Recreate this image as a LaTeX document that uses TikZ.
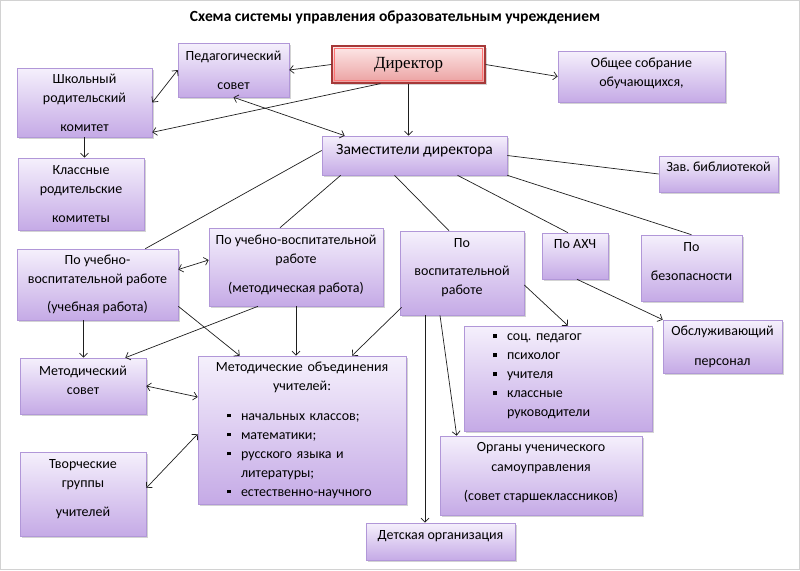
\documentclass[tikz,border=0pt]{standalone}
\usepackage{fontspec}
\setmainfont{Carlito}
\newfontfamily\dirfont{Liberation Serif}
\usetikzlibrary{arrows.meta,calc,shadows}

\definecolor{boxtop}{HTML}{F5F0FC}
\definecolor{boxbot}{HTML}{C5AAE6}
\definecolor{boxline}{HTML}{B197D8}
\definecolor{dirtop}{HTML}{FDE9E9}
\definecolor{dirbot}{HTML}{EBA0A0}
\definecolor{dirline}{HTML}{A63838}
\definecolor{linkcol}{HTML}{1E1E1E}

\newcommand\sqitem{\hspace*{15pt}\makebox[14pt][l]{\raisebox{2.7pt}{\rule{3.8pt}{3.8pt}}}}
\newcommand\dropline[1]{\rule[-#1]{0pt}{#1}}
\frenchspacing

\begin{document}
\begin{tikzpicture}[x=1pt, y=-1pt]
   \tikzstyle{box}=[draw=boxline, line width=0.6pt, top color=boxtop, bottom color=boxbot, drop shadow={shadow xshift=2pt, shadow yshift=-2pt, opacity=0.35}, align=center, inner sep=0pt, font=\fontsize{14}{17}\selectfont]
   \tikzstyle{listbox}=[box, align=left, inner xsep=14pt, font=\fontsize{14}{19}\selectfont]
   \tikzstyle{link}=[draw=linkcol, line width=0.7pt]
   \tikzstyle{arr}=[link, -{Straight Barb[length=4pt,width=8pt]}]
   \tikzstyle{darr}=[link, {Straight Barb[length=4pt,width=8pt]}-{Straight Barb[length=4pt,width=8pt]}]

\useasboundingbox (0,0) rectangle (800,570);
\draw[gray!35] (0.5,0.5) rectangle (799.5,569.5);

\node[font=\fontsize{15.5}{18}\selectfont\bfseries] (title) at (395,17) {Схема системы управления образовательным учреждением};

\node[draw=dirline, line width=1.2pt, top color=dirtop, bottom color=dirbot, drop shadow={shadow xshift=2pt, shadow yshift=-2pt, opacity=0.35}, minimum width=153pt, minimum height=37pt, font=\dirfont\fontsize{17}{20}\selectfont] (dir) at (408.5,64.5) {Директор\dropline{4pt}};
\draw[red!55!white, line width=0.5pt] ($(dir.south west)+(3,-3)$) rectangle ($(dir.north east)+(-3,3)$);

\node[box, minimum width=111pt, minimum height=54pt] (ped) at (233.5,70) {Педагогический\\[12pt]совет};
\node[box, minimum width=135pt, minimum height=69pt] (shk) at (84.5,102.5) {Школьный\\[2pt]родительский\\[12pt]комитет};
\node[box, minimum width=126pt, minimum height=72pt] (kls) at (81,194) {Классные\\[2pt]родительские\\[12pt]комитеты};
\node[box, minimum width=167pt, minimum height=51pt] (obs) at (641.5,76.5) {Общее собрание\\[2pt]обучающихся,\dropline{9pt}};
\node[box, minimum width=185pt, minimum height=39pt, font=\fontsize{15.5}{18}\selectfont] (zam) at (414.5,155.5) {Заместители директора\dropline{13pt}};
\node[box, minimum width=119pt, minimum height=36pt] (bib) at (718.5,174) {Зав. библиотекой\dropline{14pt}};

\node[box, minimum width=161pt, minimum height=71pt] (uvr1) at (97.5,284.5) {По учебно-\\[2pt]воспитательной работе\\[11pt](учебная работа)};
\node[box, minimum width=174pt, minimum height=78pt] (uvr2) at (296,267) {По учебно-воспитательной\\[2pt]работе\\[12pt](методическая работа)\dropline{6pt}};
\node[box, minimum width=124pt, minimum height=84pt] (vosp) at (462,273) {По\\[11pt]воспитательной\\[2pt]работе\dropline{12pt}};
\node[box, minimum width=66pt, minimum height=46pt] (ahch) at (575,256) {По АХЧ\dropline{23pt}};
\node[box, minimum width=101pt, minimum height=66pt] (bez) at (691.5,268) {По\\[12pt]безопасности\dropline{12pt}};
\node[box, minimum width=119pt, minimum height=53pt] (obsl) at (722.5,346.5) {Обслуживающий\\[13pt]персонал};

\node[listbox, text width=160pt, minimum height=105pt] (spec) at (558,378.5) {\sqitem соц. педагог\\ \sqitem психолог\\ \sqitem учителя\\ \sqitem классные\\ \hspace*{29pt}руководители\dropline{6pt}};
\node[box, minimum width=126pt, minimum height=56pt] (msov) at (83,386) {Методический\\[2pt]совет\dropline{11pt}};
\node[listbox, text width=180pt, minimum height=148pt] (mo) at (302,430) {\makebox[180pt]{Методические объединения}\\ \makebox[180pt]{учителей:}\\[11pt] \sqitem начальных классов;\\ \sqitem математики;\\ \sqitem русского языка и\\ \hspace*{29pt}литературы;\\ \sqitem естественно-научного};
\node[box, minimum width=126pt, minimum height=84pt] (tvor) at (83,494) {Творческие\\[2pt]группы\\[12pt]учителей\dropline{11pt}};
\node[box, minimum width=202pt, minimum height=79pt] (org) at (541,475.5) {Органы ученического\\[3pt]самоуправления\\[12pt](совет старшеклассников)\dropline{8pt}};
\node[box, minimum width=149pt, minimum height=37pt] (det) at (440.5,541.5) {Детская организация\dropline{13pt}};

\draw[arr] (dir.west) -- (ped.east);
\draw[arr] (dir.east) -- (obs.west);
\draw[arr] (dir.south) -- (dir.south |- zam.north);
\draw[arr] ($(dir.south)+(-28,0)$) -- ($(shk.south east)+(0,-5)$);
\draw[darr] (ped.west) -- (shk.east);
\draw[darr] (ped.south) -- ($(zam.north west)+(23,0)$);
\draw[arr] (shk.south) -- (shk.south |- kls.north);

\draw[link] ($(zam.west)+(0,-5)$) -- ($(uvr1.north east)+(-33,0)$);
\draw[link] ($(zam.south west)+(19,0)$) -- ($(uvr2.north)+(-16,0)$);
\draw[link] ($(zam.south)+(-20,0)$) -- ($(vosp.north)+(-13,0)$);
\draw[link] ($(zam.south)+(43,0)$) -- ($(ahch.north)+(-7,0)$);
\draw[link] (zam.south east) -- (bez.north);
\draw[link] (zam.east) -- (bib.west);

\draw[darr] ($(uvr1.east)+(0,-15)$) -- ($(uvr2.west)+(0,-7)$);
\draw[arr] ($(uvr1.south)+(-14,0)$) coordinate (u1) -- (u1 |- msov.north);
\draw[arr] ($(uvr1.south east)+(0,-14)$) -- ($(mo.north west)+(42,0)$);
\draw[arr] ($(uvr2.south)+(-38,0)$) -- ($(msov.north east)+(-21,0)$);
\draw[arr] (uvr2.south) -- (uvr2.south |- mo.north);
\draw[arr] ($(vosp.south west)+(2,-8)$) -- ($(mo.north)+(50,0)$);
\draw[arr] ($(vosp.east)+(0,12)$) -- ($(spec.north)+(10,0)$);
\draw[arr] ($(vosp.south)+(-22,0)$) -- ($(org.north west)+(17,0)$);
\draw[arr] ($(vosp.south)+(-37,0)$) coordinate (v1) -- (v1 |- det.north);
\draw[arr] ($(ahch.south)+(2,0)$) -- (obsl.north west);
\draw[darr] (msov.east) -- ($(mo.west)+(0,-33)$);
\draw[darr] ($(tvor.east)+(0,-6)$) -- ($(mo.west)+(0,4)$);

\end{tikzpicture}
\end{document}
